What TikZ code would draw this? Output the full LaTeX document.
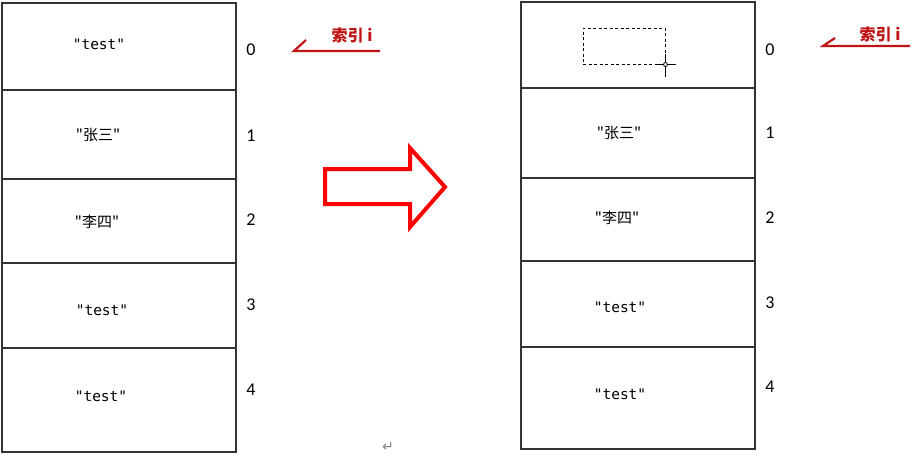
\documentclass[tikz,border=0pt]{standalone}
\usepackage{fontspec}
\setmainfont{Carlito}
\setmonofont{DejaVu Sans Mono}
\newfontfamily\cjk{Noto Sans CJK SC}
\newfontfamily\symfont{DejaVu Sans}
\usetikzlibrary{positioning}

\definecolor{idxred}{RGB}{192,20,20}

\tikzset{
  cell/.style={draw=black!80, line width=1.2pt, minimum width=234pt, inner sep=0pt, outer sep=0pt},
  val/.style={font=\fontsize{14.5}{18}\selectfont\ttfamily},
  cval/.style={font=\fontsize{15}{18}\selectfont\cjk},
  idx/.style={font=\fontsize{18}{20}\selectfont},
  idxlabel/.style={text=idxred, font=\fontsize{16}{18}\selectfont\cjk\bfseries},
  pointer/.style={draw=idxred, line width=2.2pt},
}

\begin{document}
\begin{tikzpicture}[x=1pt, y=-1pt]
  \useasboundingbox (0,0) rectangle (912,455);

  % Cells, left list
  \node[cell, minimum height=87pt] (L0) at (119,46.5) {};
  \node[cell, minimum height=89pt] (L1) [below=0pt of L0] {};
  \node[cell, minimum height=84pt] (L2) [below=0pt of L1] {};
  \node[cell, minimum height=85pt] (L3) [below=0pt of L2] {};
  \node[cell, minimum height=104pt] (L4) [below=0pt of L3] {};

  % Cells, right list
  \node[cell, minimum height=86pt] (R0) at (638,45) {};
  \node[cell, minimum height=90pt] (R1) [below=0pt of R0] {};
  \node[cell, minimum height=83pt] (R2) [below=0pt of R1] {};
  \node[cell, minimum height=86pt] (R3) [below=0pt of R2] {};
  \node[cell, minimum height=102pt] (R4) [below=0pt of R3] {};

  % Values
  \node[val]  (L0v) at (99,44)  {"test"};
  \node[cval] (L1v) at (98,135) {"张三"};
  \node[cval] (L2v) at (97,222) {"李四"};
  \node[val]  (L3v) at (102,310) {"test"};
  \node[val]  (L4v) at (101,396) {"test"};

  \node[cval] (R1v) at (619,133) {"张三"};
  \node[cval] (R2v) at (617,218) {"李四"};
  \node[val]  (R3v) at (620,307) {"test"};
  \node[val]  (R4v) at (620,394) {"test"};

  % Indices
  \node[idx] (Li0) at (251,50)  {0};
  \node[idx] (Li1) at (251,136) {1};
  \node[idx] (Li2) at (251,220) {2};
  \node[idx] (Li3) at (251,305) {3};
  \node[idx] (Li4) at (251,390) {4};

  \node[idx] (Ri0) at (770,50)  {0};
  \node[idx] (Ri1) at (770,133) {1};
  \node[idx] (Ri2) at (770,218) {2};
  \node[idx] (Ri3) at (770,303) {3};
  \node[idx] (Ri4) at (770,387) {4};

  % Index pointers
  \node[idxlabel] (ptrL) at (352,35) {索引 i};
  \draw[pointer] (380,51) -- (294,51) -- (306,40);
  \node[idxlabel] (ptrR) at (880,34) {索引 i};
  \draw[pointer] (910,46) -- (823,46) -- (835,38);

  % Removed element
  \node[draw, line width=1pt, dash pattern=on 3pt off 2.5pt, minimum width=82pt, minimum height=36pt] (gap) at (624,46) {};
  \draw[line width=1pt] ([yshift=-12pt]gap.south east) -- ([yshift=11pt]gap.south east);
  \draw[line width=1pt] ([xshift=-8pt]gap.south east) -- ([xshift=10pt]gap.south east);
  \draw[line width=0.8pt, fill=white] (gap.south east) circle (2pt);

  % Arrow
  \draw[red, line width=4pt, line join=miter]
    (325,169) -- (410,169) -- (410,148) -- (445,187) -- (410,227) -- (410,204) -- (325,204) -- cycle;

  \node[text=gray, font=\symfont\fontsize{14}{15}\selectfont] (ret) at (388,447) {↵};
\end{tikzpicture}
\end{document}
